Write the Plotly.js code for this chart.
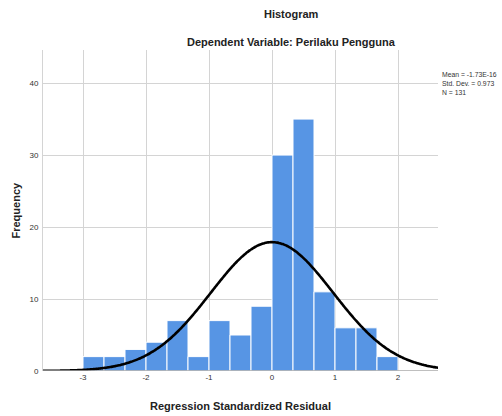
<!DOCTYPE html>
<html>
<head>
<meta charset="utf-8">
<script src="https://cdn.plot.ly/plotly-3.0.1.min.js"></script>
<style>html,body{margin:0;padding:0;background:#fff;}#chart{width:502px;height:416px;}</style>
</head>
<body>
<div id="chart"></div>
<script>
// Bin left edges (width 1/3) and counts
const binStarts = [-3, -2.6667, -2.3333, -2, -1.6667, -1.3333, -1, -0.6667, -0.3333, 0, 0.3333, 0.6667, 1, 1.3333, 1.6667];
const counts    = [2, 2, 3, 4, 7, 2, 7, 5, 9, 30, 35, 11, 6, 6, 2];
const binWidth = 1/3;
// Summary statistics printed on the chart
const statMean = -1.73e-16;
const statSD = 0.973;
const statN = 131;
const xTicks = [-3, -2, -1, 0, 1, 2];
const yTicks = [0, 10, 20, 30, 40];

const centers = binStarts.map(s => s + binWidth/2);

// Normal curve implied by the printed mean, SD and N
const curveX = [], curveY = [];
for (let i = 0; i <= 300; i++) {
  const x = -3.64 + i * (6.28/300);
  curveX.push(x);
  const z = (x - statMean) / statSD;
  curveY.push(statN * binWidth * Math.exp(-0.5*z*z) / (statSD * Math.sqrt(2*Math.PI)));
}

const font = 'Arial, "Liberation Sans", sans-serif';
const data = [
  {type:'bar', x: centers, y: counts, width: binWidth,
   marker:{color:'#5795e4', line:{color:'#ffffff', width:1}}, hoverinfo:'none'},
  {type:'scatter', mode:'lines', x: curveX, y: curveY,
   line:{color:'#000', width:2.6, shape:'spline'}, hoverinfo:'none'}
];

const layout = {
  width:502, height:416,
  margin:{l:43, r:64, t:50, b:45},
  paper_bgcolor:'#fff', plot_bgcolor:'#fff',
  showlegend:false,
  bargap:0,
  xaxis:{range:[-3.635, 2.635], tickvals:xTicks, ticktext:xTicks.map(String),
    showgrid:true, gridcolor:'#d4d4d4', gridwidth:1, zeroline:false,
    showline:false, ticks:'', tickfont:{family:font, size:8, color:'#333'},
    fixedrange:true},
  yaxis:{range:[0, 44.6], tickvals:yTicks, ticktext:yTicks.map(String),
    showgrid:true, gridcolor:'#d4d4d4', gridwidth:1, zeroline:false,
    showline:true, linecolor:'#d4d4d4', ticks:'', tickfont:{family:font, size:8, color:'#333'},
    ticklabelstandoff:2, fixedrange:true},
  shapes:[
    {type:'line', xref:'paper', yref:'y', x0:0, x1:1, y0:0, y1:0, line:{color:'#aaaaaa', width:1.5}}
  ],
  annotations:[
    {text:'Histogram', xref:'paper', yref:'paper', x:0.629, y:1, yshift:36, xanchor:'center', yanchor:'middle',
     showarrow:false, font:{family:font, size:11, color:'#222', weight:'bold'}},
    {text:'Dependent Variable: Perilaku Pengguna', xref:'paper', yref:'paper', x:0.629, y:1, yshift:8, yanchor:'middle',
     xanchor:'center', showarrow:false, font:{family:font, size:11, color:'#222', weight:'bold'}},
    {text:'Mean = -1.73E-16<br>Std. Dev. = 0.973<br>N = 131', xref:'paper', yref:'paper', x:1, xshift:2,
     y:1, yshift:-19, yanchor:'top', xanchor:'left', align:'left', showarrow:false,
     font:{family:font, size:6.8, color:'#333'}},
    {text:'Frequency', xref:'paper', yref:'paper', x:0, xshift:-28, y:0.5, textangle:-90,
     xanchor:'center', yanchor:'middle', showarrow:false, font:{family:font, size:11, color:'#222', weight:'bold'}},
    {text:'Regression Standardized Residual', xref:'paper', yref:'paper', x:0.5, y:0, yshift:-35,
     xanchor:'center', yanchor:'middle', showarrow:false, font:{family:font, size:11, color:'#222', weight:'bold'}}
  ]
};

Plotly.newPlot('chart', data, layout, {staticPlot:true, displayModeBar:false});
</script>
</body>
</html>
